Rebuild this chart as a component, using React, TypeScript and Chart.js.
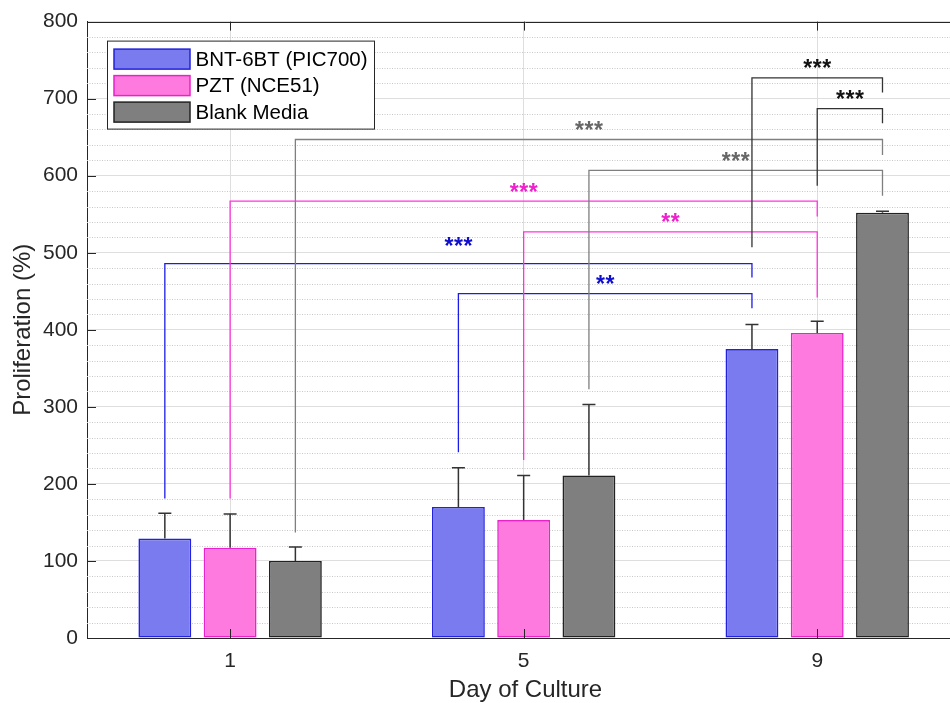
import React, { useEffect, useRef } from 'react';
import { Chart, registerables } from 'chart.js';

Chart.register(...registerables);

// ---------------- data ----------------
const days = [1, 5, 9];
const seriesLabels = ['BNT-6BT (PIC700)', 'PZT (NCE51)', 'Blank Media'];
const bntValues = [129, 170, 375];
const pztValues = [117, 153, 396];
const blankValues = [100, 211, 552];
const bntErrors = [33, 51, 32];
const pztErrors = [44, 58, 15];
const blankErrors = [18, 92, 2];
const yMin = 0;
const yMax = 800;
const yMajorStep = 100;
const yMinorStep = 20;

// significance brackets: series index + day index of each end
const bracketFromSeries = [0, 0, 1, 1, 2, 2, 0, 1];
const bracketFromDay = [0, 1, 0, 1, 0, 1, 2, 2];
const bracketToSeries = [0, 0, 1, 1, 2, 2, 2, 2];
const bracketToDay = [2, 2, 2, 2, 2, 2, 2, 2];
const bracketTops = [486, 447, 567, 527, 647, 607, 727, 687];
const bracketLeftEnds = [181, 241, 181, 231, 137, 323, 507, 587];
const bracketRightEnds = [468, 428, 547, 442, 627, 574, 708, 668];
const bracketLabelLevels = [512, 462, 582, 542, 662, 622, 742, 702];
const bracketLabels = ['***', '**', '***', '**', '***', '***', '***', '***'];
const bracketGroups = [0, 0, 1, 1, 2, 2, 3, 3];

// ---------------- styles ----------------
const FONT = "'Liberation Sans', Arial, Helvetica, sans-serif";
const TEXT = '#262626';
const fillColors = ['#7b7bf0', '#ff7ade', '#7f7f7f'];
const borderColors = ['#2222dc', '#ea22c8', '#222222'];
const bracketLineColors = ['#1c1ce6', '#ff33dd', '#7f7f7f', '#333333'];
const bracketTextColors = ['#1010cc', '#ee22cc', '#666666', '#111111'];

const valuesBySeries = [bntValues, pztValues, blankValues];
const errorsBySeries = [bntErrors, pztErrors, blankErrors];

const extrasPlugin = {
  id: 'extras',
  beforeDatasetsDraw(chart: any) {
    const { ctx, chartArea } = chart;
    const ys = chart.scales.y;
    ctx.save();
    ctx.strokeStyle = '#c8c8c8';
    ctx.lineWidth = 1;
    ctx.setLineDash([1, 1.5]);
    for (let v = yMin; v <= yMax; v += yMinorStep) {
      if (v % yMajorStep === 0) continue;
      const y = Math.round(ys.getPixelForValue(v)) + 0.5;
      ctx.beginPath();
      ctx.moveTo(chartArea.left, y);
      ctx.lineTo(chartArea.right, y);
      ctx.stroke();
    }
    ctx.restore();
  },
  afterDatasetsDraw(chart: any) {
    const { ctx, chartArea } = chart;
    const ys = chart.scales.y;
    const xs = chart.scales.x;
    ctx.save();
    // error bars
    ctx.strokeStyle = '#333333';
    ctx.lineWidth = 1.5;
    for (let s = 0; s < valuesBySeries.length; s++) {
      const meta = chart.getDatasetMeta(s);
      meta.data.forEach((el: any, j: number) => {
        const x = el.x;
        const yTop = el.y;
        const yE = ys.getPixelForValue(valuesBySeries[s][j] + errorsBySeries[s][j]);
        ctx.beginPath();
        ctx.moveTo(x, yTop);
        ctx.lineTo(x, yE);
        ctx.moveTo(x - 6.5, yE);
        ctx.lineTo(x + 6.5, yE);
        ctx.stroke();
      });
    }
    // brackets
    for (let b = 0; b < bracketTops.length; b++) {
      const x1 = chart.getDatasetMeta(bracketFromSeries[b]).data[bracketFromDay[b]].x;
      const x2 = chart.getDatasetMeta(bracketToSeries[b]).data[bracketToDay[b]].x;
      const yT = ys.getPixelForValue(bracketTops[b]);
      const yL = ys.getPixelForValue(bracketLeftEnds[b]);
      const yR = ys.getPixelForValue(bracketRightEnds[b]);
      const g = bracketGroups[b];
      ctx.strokeStyle = bracketLineColors[g];
      ctx.lineWidth = 1.3;
      ctx.beginPath();
      ctx.moveTo(x1, yL);
      ctx.lineTo(x1, yT);
      ctx.lineTo(x2, yT);
      ctx.lineTo(x2, yR);
      ctx.stroke();
      ctx.fillStyle = bracketTextColors[g];
      ctx.font = `bold 23px ${FONT}`;
      ctx.textAlign = 'center';
      ctx.textBaseline = 'alphabetic';
      const label = bracketLabels[b];
      const n = label.length;
      const cx = (x1 + x2) / 2;
      const cy = ys.getPixelForValue(bracketLabelLevels[b]);
      const step = 9.5;
      for (let k = 0; k < n; k++) {
        ctx.fillText(label[k], cx + (k - (n - 1) / 2) * step, cy + 10);
      }
    }
    // inner tick marks and top box line
    ctx.strokeStyle = TEXT;
    ctx.lineWidth = 1;
    ctx.beginPath();
    for (let v = yMin; v <= yMax; v += yMajorStep) {
      const y = Math.round(ys.getPixelForValue(v)) + 0.5;
      ctx.moveTo(chartArea.left, y);
      ctx.lineTo(chartArea.left + 9, y);
    }
    days.forEach((d) => {
      const x = Math.round(xs.getPixelForValue(d)) + 0.5;
      ctx.moveTo(x, chartArea.bottom);
      ctx.lineTo(x, chartArea.bottom - 9);
      ctx.moveTo(x, chartArea.top);
      ctx.lineTo(x, chartArea.top + 9);
    });
    const yt = Math.round(chartArea.top) + 0.5;
    ctx.moveTo(chartArea.left, yt);
    ctx.lineTo(chartArea.right, yt);
    ctx.stroke();

    // legend box
    const lx = chartArea.left + 20.5;
    const ly = chartArea.top + 19.5;
    const lw = 267;
    const lh = 88;
    ctx.fillStyle = '#ffffff';
    ctx.fillRect(lx, ly, lw, lh);
    ctx.strokeStyle = TEXT;
    ctx.lineWidth = 1;
    ctx.strokeRect(lx, ly, lw, lh);
    chart.data.datasets.forEach((ds: any, i: number) => {
      const sy = ly + 8 + i * 26.5;
      ctx.fillStyle = ds.backgroundColor;
      ctx.fillRect(lx + 6.5, sy, 76, 20);
      ctx.strokeStyle = ds.borderColor;
      ctx.lineWidth = 1.5;
      ctx.strokeRect(lx + 6.5, sy, 76, 20);
      ctx.fillStyle = '#000000';
      ctx.font = `20.5px ${FONT}`;
      ctx.textAlign = 'left';
      ctx.textBaseline = 'middle';
      ctx.fillText(ds.label, lx + 88, sy + 11);
    });
    ctx.restore();
  },
};

export default function App() {
  const ref = useRef<HTMLCanvasElement | null>(null);

  useEffect(() => {
    if (!ref.current) return;
    Chart.defaults.font.family = FONT;
    Chart.defaults.color = TEXT;
    const datasets = valuesBySeries.map((vals, s) => ({
      label: seriesLabels[s],
      data: days.map((d, i) => ({ x: d, y: vals[i] })),
      backgroundColor: fillColors[s],
      borderColor: borderColors[s],
      borderWidth: 1.6,
      borderSkipped: false,
      categoryPercentage: 0.667,
      barPercentage: 0.81,
    }));
    const chart = new Chart(ref.current, {
      type: 'bar',
      data: { datasets },
      options: {
        responsive: false,
        maintainAspectRatio: false,
        animation: false,
        devicePixelRatio: 1,
        layout: { padding: { top: 21, left: 0, right: 0, bottom: 0 } },
        plugins: { legend: { display: false }, tooltip: { enabled: false } },
        scales: {
          x: {
            type: 'linear',
            min: -0.95,
            max: 11,
            offset: false,
            afterBuildTicks: (scale: any) => {
              scale.ticks = days.map((d) => ({ value: d }));
            },
            afterFit: (scale: any) => {
              scale.height = 65;
            },
            grid: { offset: false, color: '#dedede', drawTicks: false, lineWidth: 1 },
            border: { display: true, color: TEXT, width: 1 },
            ticks: {
              font: { size: 21 },
              color: TEXT,
              padding: 11,
              autoSkip: false,
              maxRotation: 0,
              callback: (v: any) => String(v),
            },
            title: {
              display: true,
              text: 'Day of Culture',
              font: { size: 24 },
              color: TEXT,
              padding: { top: 0, bottom: -2 },
            },
          },
          y: {
            min: yMin,
            max: yMax,
            afterFit: (scale: any) => {
              scale.width = 87;
            },
            grid: { color: '#dedede', drawTicks: false, lineWidth: 1 },
            border: { display: true, color: TEXT, width: 1 },
            ticks: {
              stepSize: yMajorStep,
              font: { size: 21 },
              color: TEXT,
              padding: 9,
            },
            title: {
              display: true,
              text: 'Proliferation (%)',
              font: { size: 24 },
              color: TEXT,
              padding: { top: 8.5, bottom: 0 },
            },
          },
        },
      },
      plugins: [extrasPlugin],
    } as any);
    return () => chart.destroy();
  }, []);

  return (
    <div
      style={{
        position: 'fixed',
        left: 0,
        top: 0,
        width: 950,
        height: 703,
        overflow: 'hidden',
        background: '#ffffff',
      }}
    >
      <canvas ref={ref} width={964} height={703} style={{ width: 964, height: 703, display: 'block' }} />
    </div>
  );
}
